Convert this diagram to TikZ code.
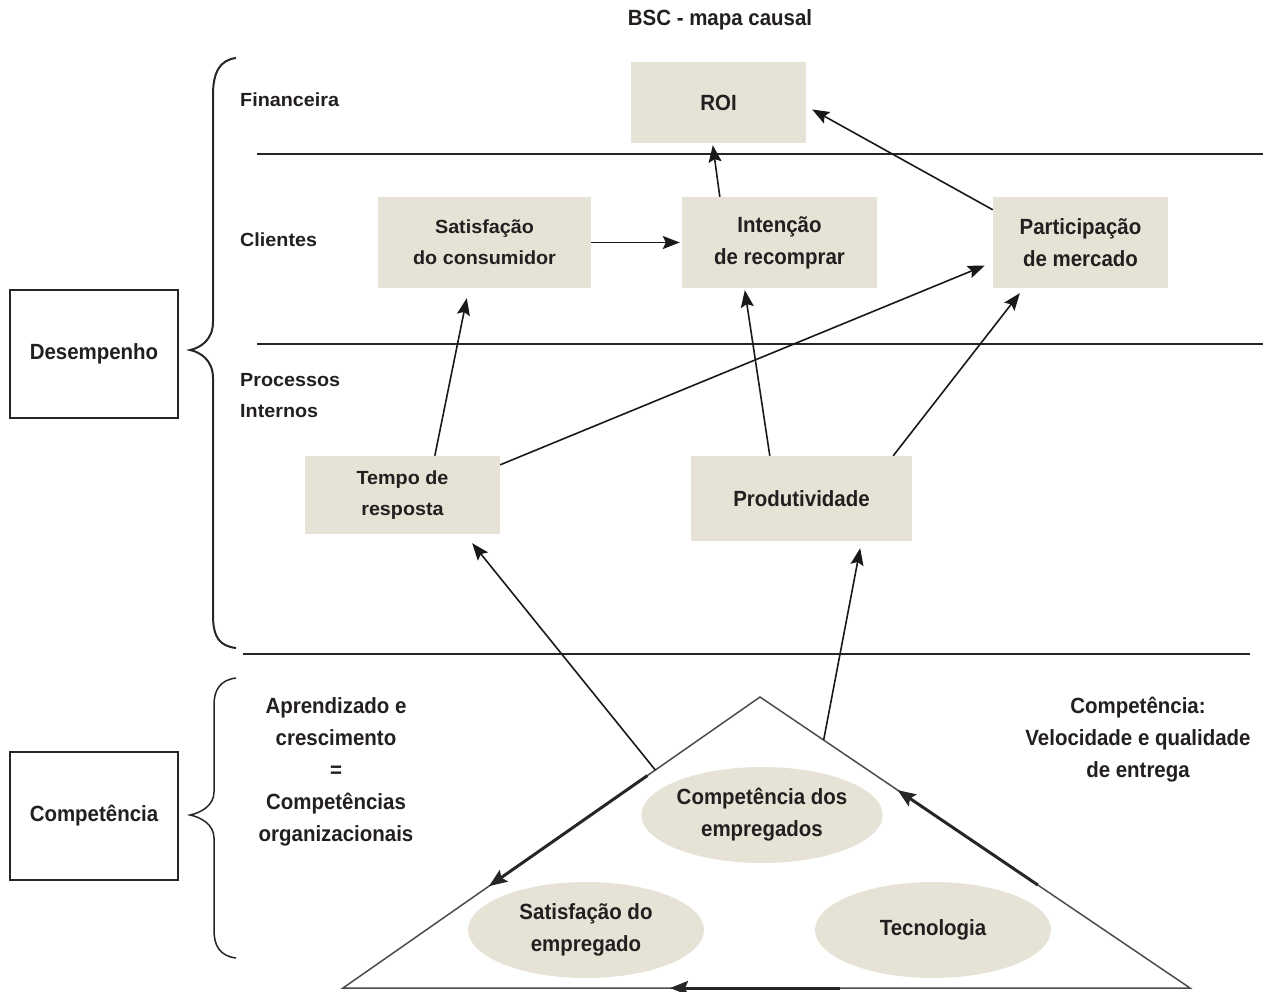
\documentclass[tikz,border=0pt]{standalone}
\usepackage{fontspec}
\setmainfont{Liberation Sans}
\newfontfamily\widef[FakeStretch=1.04]{Liberation Sans}
\newfontfamily\condf[FakeStretch=0.93]{Liberation Sans}
\usetikzlibrary{arrows.meta,shapes.geometric,calc}
\definecolor{beige}{HTML}{E6E3D6}
\definecolor{txt}{HTML}{231F20}
\tikzset{
  wtext/.style={font=\widef\bfseries\fontsize{19}{31}\selectfont, text=txt, align=center, inner sep=0pt},
  ctext/.style={font=\condf\bfseries\fontsize{22}{32}\selectfont, text=txt, align=center, inner sep=0pt},
  bbox/.style={fill=beige, inner sep=0pt},
  ell/.style={ellipse, fill=beige, inner sep=0pt, minimum width=236pt, minimum height=96pt},
  arr/.style={-{Stealth[length=17pt,width=13pt,inset=3pt]}, line width=1.6pt, black!90},
  thick arr/.style={-{Stealth[length=18pt,width=14pt,inset=3pt]}, line width=3pt, black!85},
  sep/.style={line width=2pt, black!85},
  brace/.style={line width=2pt, black!85},
  lbox/.style={draw=black!85, line width=1.5pt, minimum width=168pt, inner sep=0pt}
}
\begin{document}
\begin{tikzpicture}[x=1pt,y=-1pt]
\useasboundingbox (0,0) rectangle (1263,992);
% title
\node[ctext] (title) at (720,20) {BSC - mapa causal};
% left boxes
\node[lbox, ctext, draw=black!85, minimum height=128pt] (desemp) at (94,354) {Desempenho};
\node[lbox, ctext, draw=black!85, minimum height=128pt] (compet) at (94,816) {Competência};
% braces
\draw[brace] (236,58) .. controls (220,60) and (213,72) .. (213,95) -- (213,322)
  .. controls (213,340) and (200,348) .. (190,350)
  .. controls (200,352) and (213,360) .. (213,378) -- (213,615)
  .. controls (213,638) and (220,646) .. (236,648);
\draw[line width=1.5pt, black!85] (236,678) .. controls (220,680) and (214,690) .. (214,705) -- (214,792)
  .. controls (214,806) and (200,813) .. (190,815)
  .. controls (200,817) and (214,824) .. (214,838) -- (214,930)
  .. controls (214,946) and (220,956) .. (236,958);
% separators
\draw[sep] (257,154) -- (1263,154);
\draw[sep] (257,344) -- (1263,344);
\draw[sep] (243,654) -- (1250,654);
% row labels
\node[wtext, anchor=west] (fin) at (240,100) {Financeira};
\node[wtext, anchor=west] (cli) at (240,240) {Clientes};
\node[wtext, anchor=west, align=left] (proc) at (240,396) {Processos\\Internos};
% boxes
\node[bbox, ctext, minimum width=175pt, minimum height=81pt] (roi) at (718.5,102.5) {ROI};
\node[bbox, wtext, minimum width=213pt, minimum height=91pt] (satc) at (484.5,242.5) {Satisfação\\do consumidor};
\node[bbox, ctext, minimum width=195pt, minimum height=91pt] (int) at (779.5,242.5) {Intenção\\de recomprar};
\node[bbox, ctext, minimum width=175pt, minimum height=91pt] (part) at (1080.5,242.5) {Participação\\de mercado};
\node[bbox, wtext, minimum width=195pt, minimum height=78pt] (tempo) at (402.5,495) {Tempo de\\resposta};
\node[bbox, ctext, minimum width=221pt, minimum height=85pt] (prod) at (801.5,498.5) {Produtividade};
% arrows upper
\draw[arr] ([xshift=38pt]int.north west) -- ([xshift=82pt,yshift=-2pt]roi.south west);
\draw[arr] ([yshift=-13pt]part.north west) -- ([xshift=6pt,yshift=-7pt]roi.east);
\draw[arr] (satc.east) -- ([xshift=-2pt]int.west);
\draw[arr] ([xshift=130pt]tempo.north west) -- ([xshift=89pt,yshift=-10pt]satc.south west);
\draw[arr] ([yshift=-9pt]tempo.north east) -- ([xshift=-8pt,yshift=-23pt]part.west);
\draw[arr] ([xshift=79pt]prod.north west) -- ([xshift=63pt,yshift=-2pt]int.south west);
\draw[arr] ([xshift=-19pt]prod.north east) -- ([xshift=27pt,yshift=-5pt]part.south west);
% triangle
\coordinate (ta) at (760,697);
\coordinate (tb) at (343,988);
\coordinate (tc) at (1190,988);
\draw[line width=1.5pt, black!70, line join=miter] (ta) -- (tb) -- (tc) -- cycle;
% side labels
\node[ctext] (apr) at (336,772) {Aprendizado e\\crescimento\\=\\Competências\\organizacionais};
\node[ctext] (cvel) at (1138,740) {Competência:\\Velocidade e qualidade\\de entrega};
% ellipses
\node[ell, ctext] (ecomp) at (762,815) {Competência dos\\empregados};
\node[ell, ctext] (esat) at (586,930) {Satisfação do\\empregado};
\node[ell, ctext] (etec) at (933,930) {Tecnologia};
% arrows from triangle
\draw[arr] ($(ta)!0.251!(tb)$) -- ([xshift=-28pt,yshift=-9pt]tempo.south east);
\draw[arr] ($(ta)!0.148!(tc)$) -- ([xshift=-52pt,yshift=-7pt]prod.south east);
% cycle arrows on triangle edges
\draw[thick arr] ($(ta)!0.27!(tb)$) -- ($(ta)!0.65!(tb)$);
\draw[thick arr] ($(ta)!0.646!(tc)$) -- ($(ta)!0.32!(tc)$);
\draw[thick arr] (840,988) -- (670,988);
\end{tikzpicture}
\end{document}
